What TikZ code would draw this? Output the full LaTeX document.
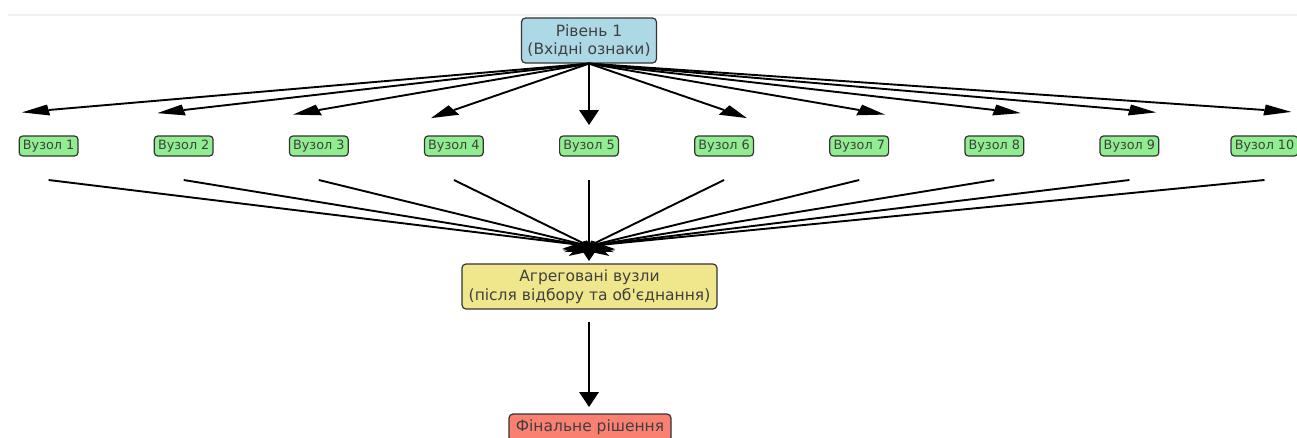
\documentclass[tikz,border=0pt]{standalone}
\usepackage{fontspec}
\setmainfont{DejaVu Sans}[Ligatures=TeXOff]
\usetikzlibrary{calc}
\definecolor{mlblue}{HTML}{ADD8E6}
\definecolor{mlgreen}{HTML}{90EE90}
\definecolor{mlkhaki}{HTML}{F0E68C}
\definecolor{mlsalmon}{HTML}{FA8072}
\newcommand\mlhead[3]{\fill[black] ($(#1)+({27*(#2)},{15*(#3)})$) -- ($(#1)+({-10*(#3)},{5.55*(#2)})$) -- ($(#1)+({10*(#3)},{-5.55*(#2)})$) -- cycle;}
\begin{document}
\begin{tikzpicture}[x=1pt,y=-1pt,
  box/.style={draw=black!80, line width=1.2pt, rounded corners=4pt, text=black!75, align=center, inner xsep=4.6pt, inner ysep=0pt},
  big/.style={box, font=\fontsize{15.5}{18.6}\selectfont, minimum height=45pt},
  vnode/.style={box, fill=mlgreen, font=\fontsize{12.8}{15.4}\selectfont, minimum height=20pt, rounded corners=3.5pt, inner xsep=3.7pt},
  shaft/.style={line width=1.9pt, black}]
\useasboundingbox (0,0) rectangle (1297,437);
\draw[line width=1.5pt, black!6] (8,15) -- (1297,15);
\node[big, fill=mlblue, minimum width=135pt] (top) at (589,40.5) {Рівень 1\\(Вхідні ознаки)};
\node[big, fill=mlkhaki, minimum width=255pt] (agg) at (589.5,286.5) {Агреговані вузли\\(після відбору та об'єднання)};
\node[big, fill=mlsalmon, minimum width=162pt, minimum height=27.4pt] (fin) at (590,427.7) {Фінальне рішення};
\foreach \i in {1,...,10}{
  \pgfmathsetmacro\xx{589+135.1*(\i-5)}
  \node[vnode] (v\i) at (\xx,146) {Вузол \i};
  % top arrows
  \pgfmathsetmacro\dx{(\xx-589)/1.8}
  \pgfmathsetmacro\len{veclen(\dx,48)}
  \pgfmathsetmacro\ux{\dx/\len}
  \pgfmathsetmacro\uy{48/\len}
  \coordinate (e\i) at (\xx,110);
  \draw[shaft] (top.south) -- (e\i);
  \mlhead{e\i}{\ux}{\uy}
  % lower arrows
  \pgfmathsetmacro\dxb{(589-\xx)/1.8}
  \pgfmathsetmacro\lenb{veclen(\dxb,66)}
  \pgfmathsetmacro\uxb{\dxb/\lenb}
  \pgfmathsetmacro\uyb{66/\lenb}
  \coordinate (s\i) at (\xx,180);
  \coordinate (a\i) at (589,246);
  \draw[shaft] (s\i) -- (a\i);
  \mlhead{a\i}{\uxb}{\uyb}
}
\coordinate (f0) at (589,322);
\coordinate (f1) at (589,392);
\draw[shaft] (f0) -- (f1);
\mlhead{f1}{0}{1}
\end{tikzpicture}
\end{document}
